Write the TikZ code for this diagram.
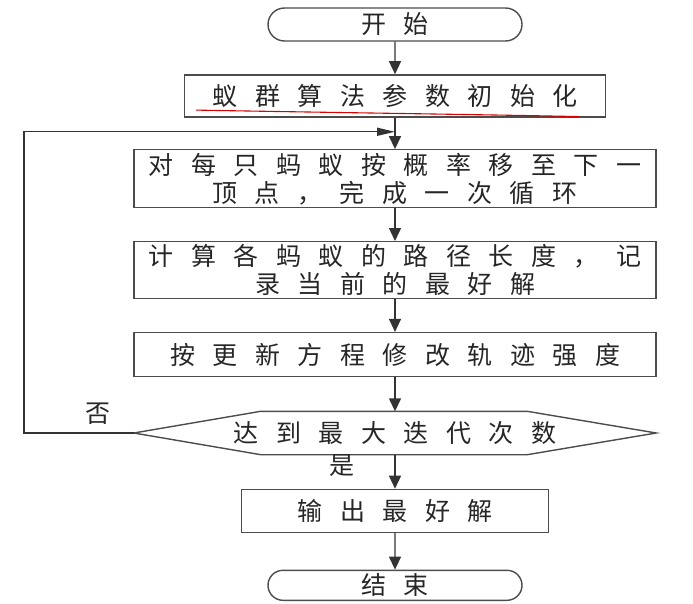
\documentclass[tikz,border=0pt]{standalone}
\usepackage{fontspec}
\newfontfamily\cjk[LetterSpace=70]{Noto Sans CJK SC}
\usetikzlibrary{arrows.meta, positioning, calc, shapes.misc}

\begin{document}
\begin{tikzpicture}[
      x=1pt, y=1pt,
      node distance=33pt,
      every node/.style={font=\cjk\fontsize{25}{28}\selectfont, text=black!85},
      box/.style={draw=black!70, line width=1.4pt, minimum width=522pt, align=center, inner sep=0pt},
      terminal/.style={draw=black!70, line width=1.4pt, rounded rectangle, minimum width=254pt, inner sep=0pt},
      flow/.style={draw=black!80, line width=1.4pt, -{Triangle[width=12pt,length=13pt]}}
    ]
      \useasboundingbox (0,0) rectangle (693,-604);
      \node[terminal, minimum height=33pt] (start) at (395,-24.5) {开始};
      \node[box, minimum width=421pt, minimum height=42pt, below=32.5pt of start] (init) {蚁群算法参数初始化};
      \node[box, minimum height=58pt, below=31.5pt of init] (move) {对每只蚂蚁按概率移至下一\\顶点，完成一次循环};
      \node[box, minimum height=57pt, below=32.5pt of move] (length) {计算各蚂蚁的路径长度，记\\录当前的最好解};
      \node[box, minimum height=44pt, below=32.5pt of length] (update) {按更新方程修改轨迹强度};
      \node[minimum width=522pt, minimum height=43pt, inner sep=0pt, below=34pt of update] (check) {达到最大迭代次数};
      \node[box, minimum width=307pt, minimum height=43pt, below=34pt of check] (output) {输出最好解};
      \node[terminal, minimum height=30pt, below=36.5pt of output] (stop) {结束};

      % hexagon round the test
      \draw[draw=black!70, line width=1.4pt] (check.west) -- ($(check.north west)+(127,0)$)
        -- ($(check.north east)+(-129,0)$) -- (check.east)
        -- ($(check.south east)+(-129,0)$) -- ($(check.south west)+(127,0)$) -- cycle;

      % red mark under the first step
      \draw[red!85!black, line width=1.1pt] ($(init.south west)+(12,7.5)$)
        .. controls ($(init.south west)+(150,5)$) and ($(init.south east)+(-120,3)$) .. ($(init.south east)+(-27,1)$);

      \draw[flow] (start) -- (init);
      \draw[flow] (init) -- (move);
      \draw[flow] (move) -- (length);
      \draw[flow] (length) -- (update);
      \draw[flow] (update) -- (check);
      \draw[flow] (check) -- (output);
      \draw[flow] (output) -- (stop);

      % back to the loop
      \coordinate (joint) at ($(init.south)!0.45!(move.north)$);
      \coordinate (leftside) at (24,0);
      \draw[flow, -{Triangle[width=8pt,length=18pt]}] (check.west) -- (check.west -| leftside) |- (joint);
      \node (no) at ($(check.west)+(-36,19)$) {否};
      \node (yes) at ($(check.south)+(-53,-11)$) {是};
    \end{tikzpicture}
\end{document}
